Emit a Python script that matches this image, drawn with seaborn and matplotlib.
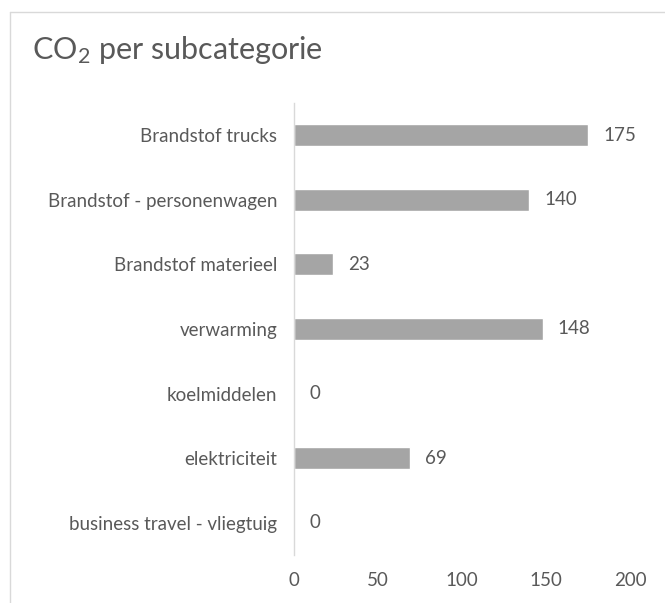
import matplotlib
matplotlib.use("Agg")
import matplotlib.pyplot as plt
from matplotlib.lines import Line2D
import seaborn as sns
import pandas as pd

# chart data
categories = ["Brandstof trucks", "Brandstof - personenwagen", "Brandstof materieel",
              "verwarming", "koelmiddelen", "elektriciteit", "business travel - vliegtuig"]
values = [175, 140, 23, 148, 0, 69, 0]
x_ticks = [0, 50, 100, 150, 200]

sns.set_style("white")
plt.rcParams['font.family'] = ['Lato', 'DejaVu Sans']
plt.rcParams['mathtext.fontset'] = 'custom'
plt.rcParams['mathtext.rm'] = 'Lato'

text_col = "#595959"
df = pd.DataFrame({"cat": categories, "val": values})

fig = plt.figure(figsize=(6.65, 6.03), dpi=100)
ax = fig.add_axes([0.4421, 0.0796, 0.5053, 0.7496])

sns.barplot(data=df, x="val", y="cat", orient="h", color="#A5A5A5",
            width=0.34, saturation=1, ax=ax)

ax.set_xlim(0, 200)
ax.set_xticks(x_ticks)
ax.set_xlabel("")
ax.set_ylabel("")
ax.tick_params(axis="both", length=0, labelsize=13.5, labelcolor=text_col)
ax.tick_params(axis="x", pad=12)
ax.tick_params(axis="y", pad=12)
for s in ["top", "right", "bottom"]:
    ax.spines[s].set_visible(False)
ax.spines["left"].set_color("#D9D9D9")
ax.spines["left"].set_linewidth(1)

for i, v in enumerate(values):
    ax.text(v + 9, i, str(v), va="center", ha="left", fontsize=13.5, color=text_col)

fig.text(0.048, 0.917, r"CO$\mathregular{_2}$ per subcategorie", fontsize=22,
         color=text_col, va="center", ha="left")

# chart frame (left and top edges visible)
fig.add_artist(Line2D([10/665, 10/665], [0, 1 - 12/603], color="#D9D9D9", lw=1))
fig.add_artist(Line2D([10/665, 1], [1 - 12/603, 1 - 12/603], color="#D9D9D9", lw=1))

fig.savefig("out.png", dpi=100)
